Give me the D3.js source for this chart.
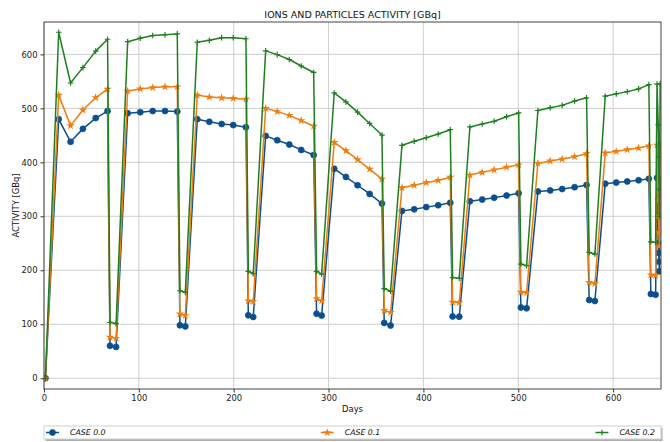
<!DOCTYPE html>
<html>
<head>
<meta charset="utf-8">
<script src="https://cdn.jsdelivr.net/npm/d3@7"></script>
<style>
  html, body { margin: 0; padding: 0; background: #fff; }
  svg { display: block; font-family: "DejaVu Sans", sans-serif; }
</style>
</head>
<body>
<svg id="chart" width="670" height="442"></svg>
<script>
// Sampling days shared by all three cases
const days = [1.5,
  15.5, 28, 41, 54.5, 67,
  69.6, 76,
  88.2, 101.5, 114.6, 127.6, 140.5,
  143.3, 149,
  161.6, 174.3, 187.3, 199.5, 212.9,
  215.4, 220.6,
  233.7, 245.9, 258.6, 271.2, 284.3,
  287.4, 292.7,
  306, 318.3, 330.6, 343.3, 356.3,
  358.7, 365.4,
  377.4, 390.3, 403, 415.6, 428.3,
  430.8, 437.8,
  449, 462, 474.6, 487.7, 500.4,
  502.8, 508.8,
  520.7, 533.7, 546.3, 559.4, 572,
  574.8, 580.8,
  591.7, 603.3, 614.9, 626.9, 637.7,
  639.8, 644.8,
  646.3, 647.6, 648.0, 648.4, 648.8, 649.6];

// Activity [GBq] per case
const case00 = [0,
  480, 438, 462, 482, 495,
  60, 58,
  491, 493, 495, 495, 494,
  98, 96,
  480, 475, 471, 469, 465,
  116.5, 113.5,
  449, 441, 433, 423, 413.5,
  119.5, 116,
  388, 373, 357.5, 341.5, 323.5,
  102.5, 97.5,
  310, 313, 317, 320.5, 325,
  114.5, 114,
  328, 331, 334.5, 338.5, 342.5,
  131, 129.5,
  346, 348, 350.5, 354, 358,
  145, 143,
  360.5, 362.5, 364.5, 366.7, 369.5,
  156, 154.7,
  371, 250, 232, 216, 198, 368];

const case01 = [0,
  524.5, 468, 497, 520, 535.5,
  76, 74,
  532, 536, 538.5, 540, 540,
  119, 116.5,
  524.5, 521, 519.5, 518.5, 517,
  143.5, 142,
  500, 494, 487, 477.5, 467,
  147.5, 143.5,
  437, 421.5, 405, 387.5, 369,
  125.5, 122,
  353, 357.5, 362.5, 366.5, 372.5,
  141, 140,
  376.5, 381.5, 386, 391, 395.5,
  159.5, 158.5,
  398, 402.5, 406, 410.5, 416,
  177.5, 175.5,
  417.5, 420.3, 423.5, 426.5, 430.6,
  191.7, 190.4,
  432, 330, 300, 270, 245, 433];

const case02 = [0,
  641, 547, 575.5, 606, 628,
  103.5, 101,
  623.5, 630, 635, 636.5, 638,
  162, 159,
  622.5, 626, 631, 631, 629,
  198, 193.5,
  606.5, 599.5, 590.5, 578.5, 566.5,
  198, 193,
  528.5, 512, 493, 472, 450.5,
  166, 161,
  431.5, 439, 445.5, 452.5, 460.5,
  186.5, 185,
  465.5, 471, 476, 484.5, 491.5,
  211.5, 208.5,
  496, 501, 505.5, 513.5, 519.5,
  233, 230,
  522.5, 526.8, 531, 536, 544,
  252.7, 251.4,
  545, 470, 410, 350, 300, 546];

const seriesNames = ["CASE 0.0", "CASE 0.1", "CASE 0.2"];
const seriesValues = [case00, case01, case02];
const xTicks = [0, 100, 200, 300, 400, 500, 600];
const yTicks = [0, 100, 200, 300, 400, 500, 600];

const colors = ["#0b4f8f", "#f07d0c", "#1f7f1f"];
const markers = ["circle", "star", "plus"];

const svg = d3.select("#chart");
const W = 670, H = 442;
const m = { left: 44, right: 9, top: 22, bottom: 53 };
const pw = W - m.left - m.right, ph = H - m.top - m.bottom;

const x = d3.scaleLinear().domain([0, 650.5]).range([m.left, m.left + pw]);
const y = d3.scaleLinear().domain([-20, 660]).range([m.top + ph, m.top]);

// Grid
const grid = svg.append("g");
grid.selectAll("line.gx").data(xTicks).join("line")
  .attr("x1", d => x(d)).attr("x2", d => x(d))
  .attr("y1", m.top).attr("y2", m.top + ph)
  .attr("stroke", "#cfcfcf").attr("stroke-width", 1);
grid.selectAll("line.gy").data(yTicks).join("line")
  .attr("x1", m.left).attr("x2", m.left + pw)
  .attr("y1", d => y(d)).attr("y2", d => y(d))
  .attr("stroke", "#cfcfcf").attr("stroke-width", 1);

// Axes
const xAxis = svg.append("g")
  .attr("transform", `translate(0,${m.top + ph})`)
  .call(d3.axisBottom(x).tickValues(xTicks).tickSize(3.5).tickPadding(3).tickFormat(d3.format("d")));
const yAxis = svg.append("g")
  .attr("transform", `translate(${m.left},0)`)
  .call(d3.axisLeft(y).tickValues(yTicks).tickSize(3.5).tickPadding(3).tickFormat(d3.format("d")));
[xAxis, yAxis].forEach(a => {
  a.select(".domain").remove();
  a.selectAll("text").attr("font-size", 8.4).attr("fill", "#1a1a1a")
    .attr("font-family", "DejaVu Sans, sans-serif");
  a.selectAll("line").attr("stroke", "#333");
});

// Plot clip
svg.append("clipPath").attr("id", "plotclip").append("rect")
  .attr("x", m.left).attr("y", m.top).attr("width", pw).attr("height", ph);

const plot = svg.append("g").attr("clip-path", "url(#plotclip)");

function drawMarker(sel, kind, color) {
  if (kind === "circle") {
    sel.append("circle").attr("r", 3).attr("fill", color).attr("stroke", color).attr("stroke-width", 0.7);
  } else if (kind === "star") {
    sel.append("path").attr("d", d3.symbol(d3.symbolStar, 22)()).attr("fill", color);
  } else {
    sel.append("path").attr("d", "M-2.8,0H2.8M0,-2.8V2.8").attr("stroke", color).attr("stroke-width", 1.2).attr("fill", "none");
  }
}

const line = d3.line().x(d => x(d[0])).y(d => y(d[1]));

seriesValues.forEach((vals, i) => {
  const pts = days.map((d, k) => [d, vals[k]]);
  const g = plot.append("g");
  g.append("path").datum(pts).attr("d", line)
    .attr("fill", "none").attr("stroke", colors[i]).attr("stroke-width", 1.5)
    .attr("stroke-linejoin", "round");
  g.selectAll("g.mk").data(pts).join("g")
    .attr("transform", d => `translate(${x(d[0])},${y(d[1])})`)
    .each(function () { drawMarker(d3.select(this), markers[i], colors[i]); });
});

// Frame
svg.append("rect").attr("x", m.left).attr("y", m.top).attr("width", pw).attr("height", ph)
  .attr("fill", "none").attr("stroke", "#444").attr("stroke-width", 1);

// Titles
svg.append("text").attr("x", m.left + pw / 2).attr("y", 17.5)
  .attr("text-anchor", "middle").attr("font-size", 9.5).attr("fill", "#111")
  .text("IONS AND PARTICLES ACTIVITY [GBq]");
svg.append("text").attr("x", m.left + pw / 2).attr("y", 412)
  .attr("text-anchor", "middle").attr("font-size", 8.4).attr("fill", "#111")
  .text("Days");
svg.append("text").attr("transform", `translate(19,${m.top + ph / 2}) rotate(-90)`)
  .attr("text-anchor", "middle").attr("font-size", 8.4).attr("fill", "#111")
  .text("ACTIVITY [GBq]");

// Legend (expanded across the plot width, below the axes)
const lg = { x: m.left, y: 426, w: pw, h: 13 };
svg.append("rect").attr("x", lg.x + 1.5).attr("y", lg.y + 2).attr("width", lg.w).attr("height", lg.h)
  .attr("fill", "#9a9a9a").attr("opacity", 0.8);
svg.append("rect").attr("x", lg.x).attr("y", lg.y).attr("width", lg.w).attr("height", lg.h)
  .attr("fill", "#fff").attr("stroke", "#d0d0d0").attr("stroke-width", 1);

const entries = svg.append("g").selectAll("g").data(seriesNames).join("g");
entries.append("line").attr("x1", 0).attr("x2", 13).attr("y1", 0).attr("y2", 0)
  .attr("stroke", (d, i) => colors[i]).attr("stroke-width", 1.5);
entries.each(function (d, i) {
  const mk = d3.select(this).append("g").attr("transform", "translate(6.5,0)");
  drawMarker(mk, markers[i], colors[i]);
});
entries.append("text").attr("x", 24).attr("y", 0).attr("dy", "0.35em")
  .attr("font-size", 7.8).attr("font-style", "italic").attr("fill", "#111")
  .text(d => d);
const widths = entries.nodes().map(n => n.getBBox().width);
const pad = 2;
entries.attr("transform", (d, i) => {
  const step = (lg.w - 2 * pad - 4 - widths[2]) / 2;
  return `translate(${lg.x + pad + i * step},${lg.y + lg.h / 2})`;
});
</script>
</body>
</html>
